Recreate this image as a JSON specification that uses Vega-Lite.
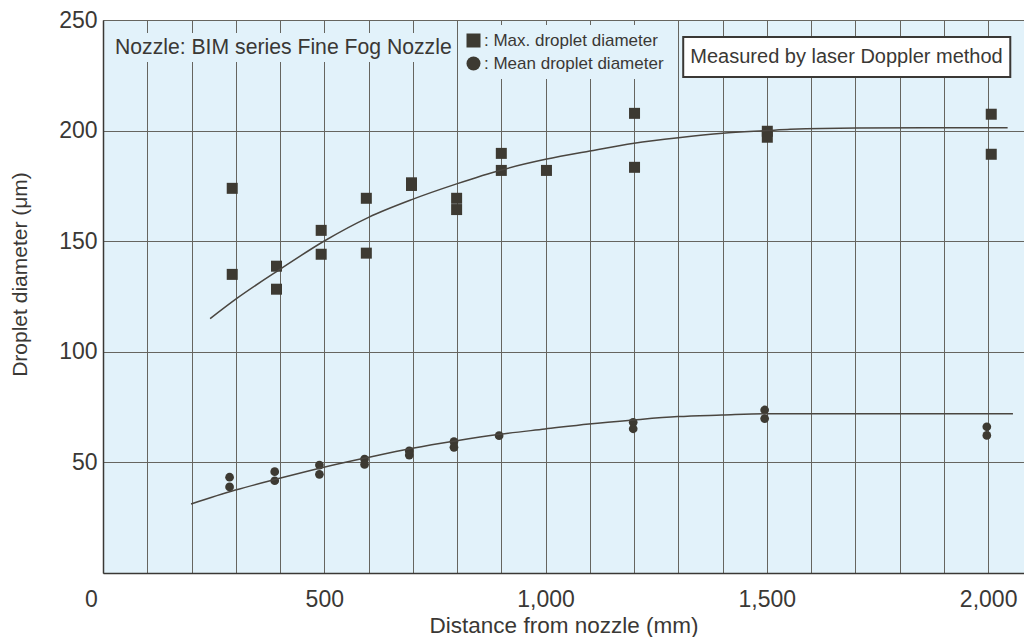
{
  "$schema": "https://vega.github.io/schema/vega-lite/v6.json",
  "width": 921,
  "height": 553,
  "autosize": {"type": "none"},
  "padding": {"left": 103, "top": 20, "right": 0, "bottom": 64},
  "background": "white",
  "config": {
    "view": {"fill": "#e2f2fa", "stroke": null},
    "font": "Liberation Sans",
    "axis": {
      "labelFont": "Liberation Sans",
      "titleFont": "Liberation Sans",
      "labelColor": "#3a3835",
      "titleColor": "#3a3835",
      "titleFontWeight": "normal",
      "gridColor": "#66655f",
      "gridWidth": 1,
      "gridOpacity": 1,
      "domainColor": "#3a3835",
      "domainWidth": 1.5,
      "ticks": false
    }
  },
  "datasets": {
    "points": [
      {"series": "Max. droplet diameter", "distance": 292, "diameter": 173.9},
      {"series": "Max. droplet diameter", "distance": 292, "diameter": 135.0},
      {"series": "Max. droplet diameter", "distance": 392, "diameter": 138.7},
      {"series": "Max. droplet diameter", "distance": 392, "diameter": 128.3},
      {"series": "Max. droplet diameter", "distance": 493, "diameter": 154.9},
      {"series": "Max. droplet diameter", "distance": 493, "diameter": 144.1},
      {"series": "Max. droplet diameter", "distance": 595, "diameter": 169.4},
      {"series": "Max. droplet diameter", "distance": 595, "diameter": 144.6},
      {"series": "Max. droplet diameter", "distance": 697, "diameter": 176.4},
      {"series": "Max. droplet diameter", "distance": 697, "diameter": 175.2},
      {"series": "Max. droplet diameter", "distance": 799, "diameter": 169.4},
      {"series": "Max. droplet diameter", "distance": 799, "diameter": 164.3},
      {"series": "Max. droplet diameter", "distance": 900, "diameter": 189.7},
      {"series": "Max. droplet diameter", "distance": 900, "diameter": 182.0},
      {"series": "Max. droplet diameter", "distance": 1002, "diameter": 182.0},
      {"series": "Max. droplet diameter", "distance": 1201, "diameter": 207.8},
      {"series": "Max. droplet diameter", "distance": 1201, "diameter": 183.4},
      {"series": "Max. droplet diameter", "distance": 1501, "diameter": 199.7},
      {"series": "Max. droplet diameter", "distance": 1501, "diameter": 197.0},
      {"series": "Max. droplet diameter", "distance": 2007, "diameter": 207.4},
      {"series": "Max. droplet diameter", "distance": 2007, "diameter": 189.3},
      {"series": "Mean droplet diameter", "distance": 286, "diameter": 43.3},
      {"series": "Mean droplet diameter", "distance": 286, "diameter": 38.9},
      {"series": "Mean droplet diameter", "distance": 388, "diameter": 45.8},
      {"series": "Mean droplet diameter", "distance": 388, "diameter": 41.7},
      {"series": "Mean droplet diameter", "distance": 489, "diameter": 48.8},
      {"series": "Mean droplet diameter", "distance": 489, "diameter": 44.6},
      {"series": "Mean droplet diameter", "distance": 591, "diameter": 51.5},
      {"series": "Mean droplet diameter", "distance": 591, "diameter": 49.1},
      {"series": "Mean droplet diameter", "distance": 692, "diameter": 55.2},
      {"series": "Mean droplet diameter", "distance": 692, "diameter": 53.3},
      {"series": "Mean droplet diameter", "distance": 793, "diameter": 59.4},
      {"series": "Mean droplet diameter", "distance": 793, "diameter": 56.8},
      {"series": "Mean droplet diameter", "distance": 895, "diameter": 62.1},
      {"series": "Mean droplet diameter", "distance": 1198, "diameter": 68.1},
      {"series": "Mean droplet diameter", "distance": 1198, "diameter": 65.2},
      {"series": "Mean droplet diameter", "distance": 1495, "diameter": 73.7},
      {"series": "Mean droplet diameter", "distance": 1495, "diameter": 69.8},
      {"series": "Mean droplet diameter", "distance": 1997, "diameter": 66.1},
      {"series": "Mean droplet diameter", "distance": 1997, "diameter": 62.2}
    ],
    "fits": [
      {"curve": "max", "distance": 242, "diameter": 115.0},
      {"curve": "max", "distance": 300, "diameter": 123.8},
      {"curve": "max", "distance": 400, "diameter": 137.3},
      {"curve": "max", "distance": 500, "diameter": 150.1},
      {"curve": "max", "distance": 600, "diameter": 160.8},
      {"curve": "max", "distance": 699, "diameter": 168.9},
      {"curve": "max", "distance": 799, "diameter": 175.9},
      {"curve": "max", "distance": 900, "diameter": 182.2},
      {"curve": "max", "distance": 1000, "diameter": 187.0},
      {"curve": "max", "distance": 1100, "diameter": 190.8},
      {"curve": "max", "distance": 1200, "diameter": 194.3},
      {"curve": "max", "distance": 1300, "diameter": 196.8},
      {"curve": "max", "distance": 1400, "diameter": 198.8},
      {"curve": "max", "distance": 1500, "diameter": 200.0},
      {"curve": "max", "distance": 1553, "diameter": 200.6},
      {"curve": "max", "distance": 1703, "diameter": 201.2},
      {"curve": "max", "distance": 2044, "diameter": 201.3},
      {"curve": "mean", "distance": 199, "diameter": 31.2},
      {"curve": "mean", "distance": 299, "diameter": 37.5},
      {"curve": "mean", "distance": 399, "diameter": 42.8},
      {"curve": "mean", "distance": 499, "diameter": 47.8},
      {"curve": "mean", "distance": 600, "diameter": 52.3},
      {"curve": "mean", "distance": 699, "diameter": 56.4},
      {"curve": "mean", "distance": 799, "diameter": 59.8},
      {"curve": "mean", "distance": 897, "diameter": 62.7},
      {"curve": "mean", "distance": 999, "diameter": 65.1},
      {"curve": "mean", "distance": 1098, "diameter": 67.4},
      {"curve": "mean", "distance": 1199, "diameter": 69.2},
      {"curve": "mean", "distance": 1299, "diameter": 70.7},
      {"curve": "mean", "distance": 1398, "diameter": 71.4},
      {"curve": "mean", "distance": 1498, "diameter": 72.0},
      {"curve": "mean", "distance": 2056, "diameter": 72.0}
    ]
  },
  "layer": [
    {
      "data": {"name": "points"},
      "mark": {"type": "point", "filled": true, "opacity": 1, "color": "#3d3a32", "strokeWidth": 0},
      "encoding": {
        "x": {
          "field": "distance",
          "type": "quantitative",
          "scale": {"domain": [0, 2081], "nice": false, "zero": false},
          "axis": {
            "title": "Distance from nozzle (mm)",
            "titleFontSize": 22.5,
            "titleBaseline": "alphabetic",
            "titleY": 59,
            "values": [0, 100, 200, 300, 400, 500, 600, 700, 800, 900, 1000, 1100, 1200, 1300, 1400, 1500, 1600, 1700, 1800, 1900, 2000],
            "labelExpr": "datum.value % 500 === 0 ? format(datum.value, ',') : ''",
            "labelFontSize": 23,
            "labelPadding": 15,
            "labelOffset": {"condition": {"test": "datum.value === 0", "value": -12}, "value": 0},
            "labelOverlap": false,
            "labelFlush": false,
            "labelBound": false
          }
        },
        "y": {
          "field": "diameter",
          "type": "quantitative",
          "scale": {"domain": [0, 250], "nice": false},
          "axis": {
            "title": "Droplet diameter (μm)",
            "titleFontSize": 21,
            "titleX": -83,
            "titleY": 254,
            "titleAlign": "center",
            "titleBaseline": "middle",
            "titleAngle": 270,
            "values": [50, 100, 150, 200, 250],
            "labelFontSize": 23,
            "labelPadding": 6,
            "labelOverlap": false,
            "labelFlush": false,
            "labelBound": false
          }
        },
        "shape": {
          "field": "series",
          "type": "nominal",
          "scale": {"domain": ["Max. droplet diameter", "Mean droplet diameter"], "range": ["square", "circle"]},
          "legend": {
            "orient": "none",
            "legendX": 355,
            "legendY": 5,
            "title": null,
            "fillColor": "#e2f2fa",
            "padding": 7,
            "symbolSize": 196,
            "symbolFillColor": "#3d3a32",
            "symbolStrokeColor": "#3d3a32",
            "symbolStrokeWidth": 0,
            "labelFont": "Liberation Sans",
            "labelFontSize": 17,
            "labelColor": "#3a3835",
            "labelOffset": 2,
            "labelLimit": 400,
            "rowPadding": 5,
            "labelExpr": "': ' + datum.label"
          }
        },
        "size": {"condition": {"test": "datum.series === 'Max. droplet diameter'", "value": 121}, "value": 76}
      }
    },
    {
      "data": {"name": "fits"},
      "mark": {"type": "line", "interpolate": "monotone", "color": "#4a4640", "strokeWidth": 1.5},
      "encoding": {
        "x": {"field": "distance", "type": "quantitative"},
        "y": {"field": "diameter", "type": "quantitative"},
        "detail": {"field": "curve"}
      }
    },
    {
      "data": {"values": [{}]},
      "mark": {"type": "rect", "fill": "#e2f2fa"},
      "encoding": {
        "x": {"datum": 5, "type": "quantitative"},
        "x2": {"datum": 789},
        "y": {"datum": 244.1, "type": "quantitative"},
        "y2": {"datum": 231}
      }
    },
    {
      "data": {"values": [{}]},
      "mark": {"type": "text", "text": "Nozzle: BIM series Fine Fog Nozzle", "align": "left", "baseline": "alphabetic", "fontSize": 21.2, "color": "#3a3835", "font": "Liberation Sans"},
      "encoding": {
        "x": {"datum": 27, "type": "quantitative"},
        "y": {"datum": 234.5, "type": "quantitative"}
      }
    },
    {
      "data": {"values": [{}]},
      "mark": {"type": "rect", "fill": "white", "stroke": "#3a3835", "strokeWidth": 2},
      "encoding": {
        "x": {"datum": 1311, "type": "quantitative"},
        "x2": {"datum": 2050},
        "y": {"datum": 242.3, "type": "quantitative"},
        "y2": {"datum": 224.2}
      }
    },
    {
      "data": {"values": [{}]},
      "mark": {"type": "text", "text": "Measured by laser Doppler method", "align": "center", "baseline": "middle", "fontSize": 20, "color": "#3a3835", "font": "Liberation Sans"},
      "encoding": {
        "x": {"datum": 1680, "type": "quantitative"},
        "y": {"datum": 233.3, "type": "quantitative"}
      }
    }
  ]
}
